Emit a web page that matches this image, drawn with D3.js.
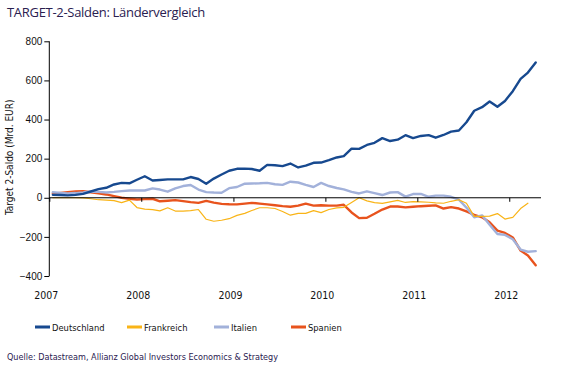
<!DOCTYPE html>
<html>
<head>
<meta charset="utf-8">
<script src="https://cdn.jsdelivr.net/npm/d3@7"></script>
<style>
  body { margin: 0; background: #fff; }
  svg { display: block; font-family: "Liberation Sans Narrow", "DejaVu Sans Condensed", sans-serif; }
  .axis path, .axis line { stroke: #000; stroke-width: 1; }
  .axis text { font-size: 10px; fill: #111; }
  .series { fill: none; stroke-linejoin: round; stroke-linecap: round; }
</style>
</head>
<body>
<svg width="571" height="371"></svg>
<script>
// monthly values, Jan 2007 - Apr 2012 (Mrd. EUR)
var months = d3.range(64).map(function(i) { return new Date(2007, i, 15); });

var deutschland = [15, 14, 12, 15, 20, 32, 44, 51, 68, 76, 74, 92,
  110, 88, 91, 94, 94, 94, 106, 96, 72, 98, 119, 138,
  148, 149, 147, 138, 168, 166, 162, 175, 155, 164, 179, 180,
  192, 206, 213, 251, 250, 270, 281, 305, 290, 297, 320, 305,
  316, 320, 307, 321, 338, 344, 386, 445, 463, 492, 465, 495,
  545, 608, 640, 692];

var frankreich = [0, 0, 0, 0, -1, -5, -10, -12, -15, -25, -12, -50,
  -58, -61, -67, -51, -68, -68, -66, -60, -110, -120, -115, -107,
  -90, -80, -65, -51, -51, -55, -70, -89, -80, -80, -66, -76,
  -60, -52, -49, -24, 0, -16, -25, -29, -21, -13, -24, -20,
  -21, -23, -26, -28, -18, -10, -28, -95, -95, -94, -81, -109,
  -100, -55, -28, null];

var italien = [28, 25, 22, 24, 27, 32, 30, 27, 30, 34, 37, 37,
  37, 48, 42, 31, 48, 60, 65, 42, 29, 27, 26, 49,
  55, 72, 73, 74, 76, 69, 66, 82, 78, 66, 55, 76,
  60, 50, 43, 30, 22, 33, 24, 14, 27, 29, 6, 19,
  20, 5, 11, 11, 5, -10, -50, -100, -90, -138, -185, -190,
  -212, -265, -276, -273];

var spanien = [22, 25, 28, 32, 34, 28, 23, 17, 8, 0, -5, -9,
  -7, -5, -18, -15, -12, -17, -22, -26, -16, -25, -31, -33,
  -34, -30, -26, -30, -34, -38, -43, -46, -40, -30, -40, -38,
  -40, -40, -36, -75, -104, -102, -82, -60, -45, -45, -49, -46,
  -43, -41, -39, -55, -48, -55, -70, -87, -100, -125, -168, -180,
  -203, -270, -295, -345];

var yTicks = [-400, -200, 0, 200, 400, 600, 800];
var yearTicks = [2007, 2008, 2009, 2010, 2011, 2012];

var seriesNames = ["Deutschland", "Frankreich", "Italien", "Spanien"];
var seriesColors = ["#17498f", "#f9b417", "#a2b1da", "#e8531d"];
var seriesWidths = [2.4, 1.2, 2.4, 2.4];
var seriesValues = [deutschland, frankreich, italien, spanien];

var svg = d3.select("svg"),
    margin = {top: 41.3, left: 49.3},
    width = 491.7,
    height = 234.7;

var x = d3.scaleTime()
    .domain([new Date(2007, 0, 1), new Date(2012, 4, 6)])
    .range([0, width]);
var y = d3.scaleLinear().domain([-400, 800]).range([height, 0]);

// title
svg.append("text")
    .attr("x", 7).attr("y", 17)
    .style("font-family", "'Open Sans', 'Noto Sans', sans-serif")
    .style("font-size", "13px")
    .style("letter-spacing", "-0.3px")
    .attr("fill", "#2a2050")
    .text("TARGET-2-Salden: Ländervergleich");

var chart = svg.append("g")
    .attr("transform", "translate(" + margin.left + "," + margin.top + ")");

// y axis label
svg.append("text")
    .attr("transform", "translate(13," + (margin.top + 116) + ") rotate(-90)")
    .attr("text-anchor", "middle")
    .style("font-size", "10px")
    .attr("fill", "#111")
    .text("Target 2-Saldo (Mrd. EUR)");

// y axis
chart.append("g")
    .attr("class", "axis")
    .call(d3.axisLeft(y).tickValues(yTicks).tickSize(5).tickPadding(2).tickFormat(function(d) {
      return d < 0 ? "\u2212" + Math.abs(d) : d;
    }))
  .select(".domain").attr("d", "M0,0V" + height);

// lines (Deutschland on top)
var line = d3.line()
    .defined(function(d) { return d[1] != null; })
    .x(function(d) { return x(d[0]); })
    .y(function(d) { return y(d[1]); });

[3, 2, 1, 0].forEach(function(k) {
  chart.append("path")
      .attr("class", "series")
      .attr("stroke", seriesColors[k])
      .attr("stroke-width", seriesWidths[k])
      .attr("d", line(months.map(function(m, i) { return [m, seriesValues[k][i]]; })));
});

// zero line with year ticks
var xAxis = chart.append("g")
    .attr("class", "axis")
    .attr("transform", "translate(0," + y(0) + ")")
    .call(d3.axisBottom(x)
      .tickValues(yearTicks.map(function(yr) { return new Date(yr, 0, 1); }))
      .tickSize(4)
      .tickFormat(""));
xAxis.select(".domain").attr("d", "M0,0H" + width);

// year labels below plot
chart.append("g")
    .selectAll("text")
    .data(yearTicks)
  .enter().append("text")
    .attr("x", function(d) { return x(new Date(d, 0, 1)) - 3; })
    .attr("y", height + 23)
    .attr("text-anchor", "middle")
    .style("font-size", "10.5px")
    .attr("fill", "#111")
    .text(function(d) { return d; });

// legend
var legendX = [35, 127, 214, 291];
var legend = svg.append("g").attr("transform", "translate(0,327)");
seriesNames.forEach(function(name, k) {
  legend.append("rect")
      .attr("x", legendX[k]).attr("y", -1.5)
      .attr("width", 15).attr("height", 3)
      .attr("fill", seriesColors[k]);
  legend.append("text")
      .attr("x", legendX[k] + 17).attr("y", 3.5)
      .style("font-size", "9.3px")
      .attr("fill", "#111")
      .text(name);
});

// source
svg.append("text")
    .attr("x", 7).attr("y", 360)
    .style("font-size", "9px")
    .attr("fill", "#2a2050")
    .text("Quelle: Datastream, Allianz Global Investors Economics & Strategy");
</script>
</body>
</html>
